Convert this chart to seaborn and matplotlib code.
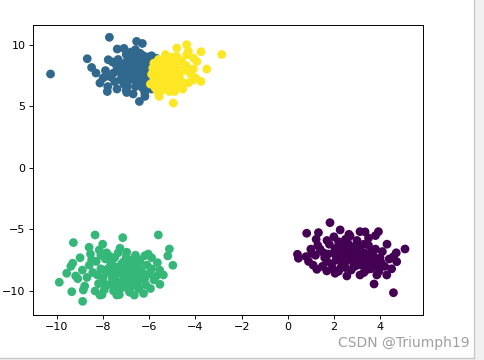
import matplotlib
matplotlib.use("Agg")
import matplotlib.pyplot as plt
import seaborn as sns
import pandas as pd
from matplotlib.patches import Rectangle
from matplotlib.lines import Line2D

# ---- data ----
blue_x = [-10.28, -7.73, -6.55, -8.69, -8.5, -8.31, -8.14, -7.82, -7.39, -7.78, -6.98, -6.43, -6.19, -6.84,
          -7.4, -7.2, -7.0, -6.9, -6.8, -6.7, -6.6, -6.5, -6.4, -6.3, -6.2, -6.1, -6.0, -5.9, -5.8, -5.8,
          -6.9, -7.1, -7.5, -7.3, -6.6, -6.3, -6.0, -5.9, -6.4, -6.8, -7.0, -7.6, -7.7, -7.9, -6.5, -6.7,
          -6.2, -6.0, -5.7, -5.6, -6.4, -6.9, -7.2, -6.1, -6.6, -5.9, -6.2, -7.4, -7.0, -6.7, -7.8, -8.0,
          -6.35, -6.55, -6.15, -5.75, -5.65, -6.85, -7.15, -6.45, -6.05, -5.85, -6.75, -7.35, -6.25, -5.95,
          -7.55, -6.6, -6.3, -7.1,
          -6.5, -6.3, -6.1, -6.7, -6.9, -6.4, -6.2, -5.95, -6.6, -6.8, -7.0, -6.45, -6.15, -5.8, -6.55,
          -6.95, -7.25, -6.05, -7.45, -5.7]
blue_y = [7.62, 10.6, 10.27, 8.86, 8.15, 7.7, 6.89, 6.2, 9.65, 8.78, 6.12, 5.39, 5.8, 9.19,
          8.2, 7.6, 8.6, 7.1, 8.0, 9.0, 7.5, 8.4, 6.9, 7.9, 8.8, 7.3, 8.2, 7.7, 8.6, 7.0,
          8.9, 6.8, 7.0, 7.9, 6.6, 6.5, 6.8, 9.1, 9.3, 9.4, 9.2, 8.6, 7.4, 7.9, 7.0, 8.3,
          7.6, 7.4, 8.0, 7.4, 8.0, 7.7, 8.3, 8.5, 8.7, 6.4, 6.1, 6.4, 6.3, 6.0, 6.6, 7.3,
          7.25, 7.85, 8.15, 8.35, 7.7, 8.45, 7.35, 8.65, 9.0, 7.2, 7.25, 8.8, 9.1, 8.55,
          7.7, 9.6, 10.1, 9.7,
          7.6, 8.3, 7.8, 7.8, 8.2, 7.3, 8.0, 8.0, 8.1, 7.4, 7.9, 8.9, 7.0, 7.9, 6.8,
          6.6, 7.15, 6.6, 8.45, 8.9]

yellow_x = [-4.81, -4.38, -4.31, -3.76, -2.86, -4.81, -4.38, -4.09, -3.94, -3.51, -4.09, -4.45, -3.76,
            -4.09, -4.96, -5.57, -5.13, -4.67, -5.68,
            -5.8, -5.6, -5.4, -5.2, -5.0, -4.8, -5.7, -5.5, -5.3, -5.1, -4.9, -4.7, -4.5, -5.8, -5.6,
            -5.4, -5.2, -5.0, -4.8, -4.6, -5.75, -5.45, -5.9, -5.3, -5.0, -4.6, -4.4, -4.2, -4.0, -4.3,
            -5.55, -5.15, -4.95, -5.35, -5.65, -4.75, -5.25, -5.45, -4.85, -5.05, -4.55, -5.85, -5.6,
            -5.95, -4.9, -5.3,
            -5.3, -5.1, -5.5, -4.9, -5.2, -5.4, -4.7, -5.0, -5.6, -4.95, -5.75, -5.35]
yellow_y = [9.73, 10.0, 9.46, 9.43, 9.21, 9.05, 9.19, 8.92, 8.64, 8.02, 8.02, 8.1, 7.02,
            7.15, 5.26, 5.8, 6.2, 6.75, 6.34,
            8.5, 8.8, 8.3, 8.7, 8.2, 8.5, 7.9, 7.5, 7.8, 7.3, 7.7, 7.4, 7.9, 7.2, 6.9,
            7.1, 6.7, 6.9, 6.6, 7.0, 6.5, 6.3, 7.6, 8.9, 9.0, 8.7, 8.3, 7.6, 7.3, 6.9,
            8.1, 8.0, 7.45, 7.35, 7.25, 7.95, 7.05, 8.55, 8.85, 6.45, 6.4, 8.1, 6.0,
            6.8, 6.2, 9.2,
            7.6, 7.9, 7.8, 8.0, 7.5, 6.9, 7.2, 7.1, 8.4, 8.45, 7.55, 8.05]

green_x = [-8.35, -7.15, -5.61, -9.29, -8.61, -8.02, -8.17, -5.13, -5.2, -4.98, -9.32, -9.58, -9.9,
           -9.19, -9.36, -8.86, -8.89, -5.54, -5.39, -7.27, -6.98, -6.19, -8.14, -7.41, -6.65, -8.5,
           -8.3, -8.1, -8.0, -7.9, -7.8, -7.7, -7.6, -7.5, -7.4, -7.3, -7.2, -7.1, -7.0, -6.9, -6.8,
           -6.7, -6.6, -6.5, -6.4, -6.3, -6.2, -6.1, -6.0, -5.9, -5.8, -8.2, -7.95, -7.55, -7.25,
           -6.85, -6.45, -6.15, -8.45, -8.6, -8.7, -8.9, -9.0, -8.55, -7.85, -7.35, -6.6, -6.05,
           -5.65, -5.55, -5.7, -7.65, -7.15, -6.95, -6.75, -7.45, -7.85, -6.35, -6.55, -7.05, -7.6,
           -8.1, -5.95, -6.7, -7.3, -8.35, -8.05, -6.25, -9.1, -9.4, -8.8,
           -7.2, -7.0, -6.8, -7.4, -6.9, -7.6, -7.1, -6.6, -7.8, -6.4, -7.3, -6.7, -7.5, -6.2,
           -8.0, -7.0, -6.5, -7.7, -6.9, -7.4, -8.25, -5.9]
green_y = [-5.45, -5.67, -5.45, -6.07, -6.45, -6.2, -6.67, -6.59, -7.15, -7.91, -7.75, -8.56, -9.29,
           -8.78, -10.06, -9.92, -10.84, -9.46, -8.7, -6.53, -6.85, -7.13, -10.33, -10.33, -10.33, -7.48,
           -7.6, -8.2, -8.9, -7.4, -9.5, -8.0, -8.7, -7.3, -9.2, -8.4, -7.8, -9.0, -8.2, -9.6, -7.5,
           -8.8, -8.1, -9.3, -7.6, -8.5, -9.0, -7.9, -8.6, -7.3, -9.1, -9.4, -9.9, -10.0, -9.8,
           -10.1, -9.8, -9.5, -8.5, -7.9, -8.9, -8.3, -7.3, -7.0, -6.9, -6.9, -7.1, -7.0,
           -7.7, -8.3, -8.8, -7.7, -8.55, -7.9, -8.4, -8.05, -8.5, -8.9, -7.8, -9.4, -9.4,
           -7.1, -9.8, -9.6, -10.3, -10.0, -10.3, -10.2, -9.0, -8.0, -9.6,
           -8.3, -8.7, -8.0, -8.6, -9.1, -9.0, -7.6, -8.6, -8.2, -8.2, -9.4, -9.2, -8.35, -8.7,
           -9.3, -7.2, -7.4, -7.2, -9.9, -9.7, -8.7, -8.2]

purple_x = [1.83, 0.82, 1.33, 1.23, 3.13, 3.93, 0.42, 0.46, 0.79, 1.04, 5.08, 4.72, 4.58, 1.26, 1.69,
            2.05, 2.56, 3.13, 3.74, 4.58, 4.29, 3.86, 2.7, 2.27,
            1.4, 1.6, 1.8, 1.9, 2.0, 2.1, 2.2, 2.3, 2.4, 2.5, 2.6, 2.7, 2.8, 2.9, 3.0, 3.1, 3.2, 3.3,
            3.4, 3.5, 3.6, 3.7, 3.8, 3.9, 4.0, 4.1, 4.2, 1.5, 1.2, 1.0, 1.3, 1.7, 2.0, 2.5, 3.0, 3.5,
            3.8, 4.3, 4.4, 2.2, 2.75, 3.3, 3.95, 1.75, 2.35, 2.85, 3.25, 3.65, 2.55, 2.05, 3.05, 3.55,
            2.45, 2.95, 3.85, 1.95, 4.5, 4.7, 0.9, 1.1, 2.65, 3.35,
            2.6, 2.9, 3.2, 2.3, 2.7, 3.4, 3.0, 2.4, 3.6, 2.1, 3.1, 2.8, 3.3, 2.5, 1.7, 3.75, 4.05,
            2.2, 1.55, 3.45]
purple_y = [-4.45, -5.31, -5.26, -5.8, -5.18, -5.18, -7.02, -7.34, -7.21, -6.94, -6.59, -7.62, -7.21,
            -8.24, -8.37, -8.56, -8.78, -8.7, -9.43, -10.14, -8.7, -8.7, -5.53, -5.04,
            -6.6, -7.3, -6.2, -7.8, -6.9, -7.5, -6.4, -8.1, -7.0, -7.6, -6.1, -7.2, -6.7, -8.0, -7.4,
            -6.5, -7.9, -6.9, -7.6, -6.3, -8.2, -7.1, -6.6, -7.7, -7.3, -6.8, -8.0, -8.0, -7.1, -6.6,
            -6.3, -5.9, -5.6, -5.8, -5.9, -5.7, -5.5, -6.2, -7.4, -8.4, -8.3, -8.5, -8.4, -7.0, -7.35,
            -7.75, -7.15, -6.75, -6.85, -6.55, -6.25, -7.45, -6.35, -6.95, -8.0, -8.2, -8.2, -6.9,
            -7.6, -7.9, -5.4, -5.2,
            -7.4, -7.2, -7.5, -6.8, -6.9, -7.0, -7.9, -7.8, -7.8, -7.2, -6.8, -6.4, -6.2, -8.1, -7.6,
            -7.4, -7.7, -6.0, -6.9, -8.25]

cluster_labels = [0, 1, 2, 3]
colors = ["#440154", "#31688e", "#35b779", "#fde725"]
x_ticks = [-10, -8, -6, -4, -2, 0, 2, 4]
y_ticks = [-10, -5, 0, 5, 10]

frames = []
for lab, xs, ys in [(1, blue_x, blue_y), (3, yellow_x, yellow_y),
                    (2, green_x, green_y), (0, purple_x, purple_y)]:
    frames.append(pd.DataFrame({"x": xs, "y": ys, "label": lab}))
df = pd.concat(frames, ignore_index=True)

plt.rcParams["font.family"] = ["DejaVu Sans"]
fig = plt.figure(figsize=(4.85, 3.6), dpi=100)
fig.patch.set_facecolor("white")
W, H = 485, 360
ax = fig.add_axes([33 / W, (H - 315) / H, 390 / W, 290 / H])

sns.scatterplot(data=df, x="x", y="y", hue="label", palette=dict(zip(cluster_labels, colors)),
                s=40, linewidth=0, legend=False, ax=ax, alpha=1)

ax.set_xlim(-11.04, 5.86)
ax.set_ylim(-11.95, 11.6)
ax.set_xticks(x_ticks)
ax.set_yticks(y_ticks)
ax.set_xticklabels([f"\u2212{abs(t)}" if t < 0 else str(t) for t in x_ticks])
ax.set_yticklabels([f"\u2212{abs(t)}" if t < 0 else str(t) for t in y_ticks])
ax.set_xlabel("")
ax.set_ylabel("")
ax.tick_params(labelsize=8, length=2.8, width=0.65, color="black", pad=2.5)
for sp in ax.spines.values():
    sp.set_linewidth(0.7)
    sp.set_color("black")

# screenshot frame
fig.patches.append(Rectangle((474 / W, 0), 1 - 474 / W, 1, transform=fig.transFigure,
                             facecolor="#f0f0f0", edgecolor="none", zorder=0))
fig.patches.append(Rectangle((0, 0), 474 / W, 2 / H, transform=fig.transFigure,
                             facecolor="#f0f0f0", edgecolor="none", zorder=0))
fig.lines.append(Line2D([474 / W, 474 / W], [2 / H, 1], transform=fig.transFigure,
                        color="#c8c8c8", linewidth=1))
fig.lines.append(Line2D([0, 474 / W], [2 / H, 2 / H], transform=fig.transFigure,
                        color="#c8c8c8", linewidth=1))

fig.text(470 / W, (H - 343) / H, "CSDN @Triumph19", ha="right", va="center",
         fontsize=10, color="#a0a0a0")

fig.savefig("out.png", dpi=100)
